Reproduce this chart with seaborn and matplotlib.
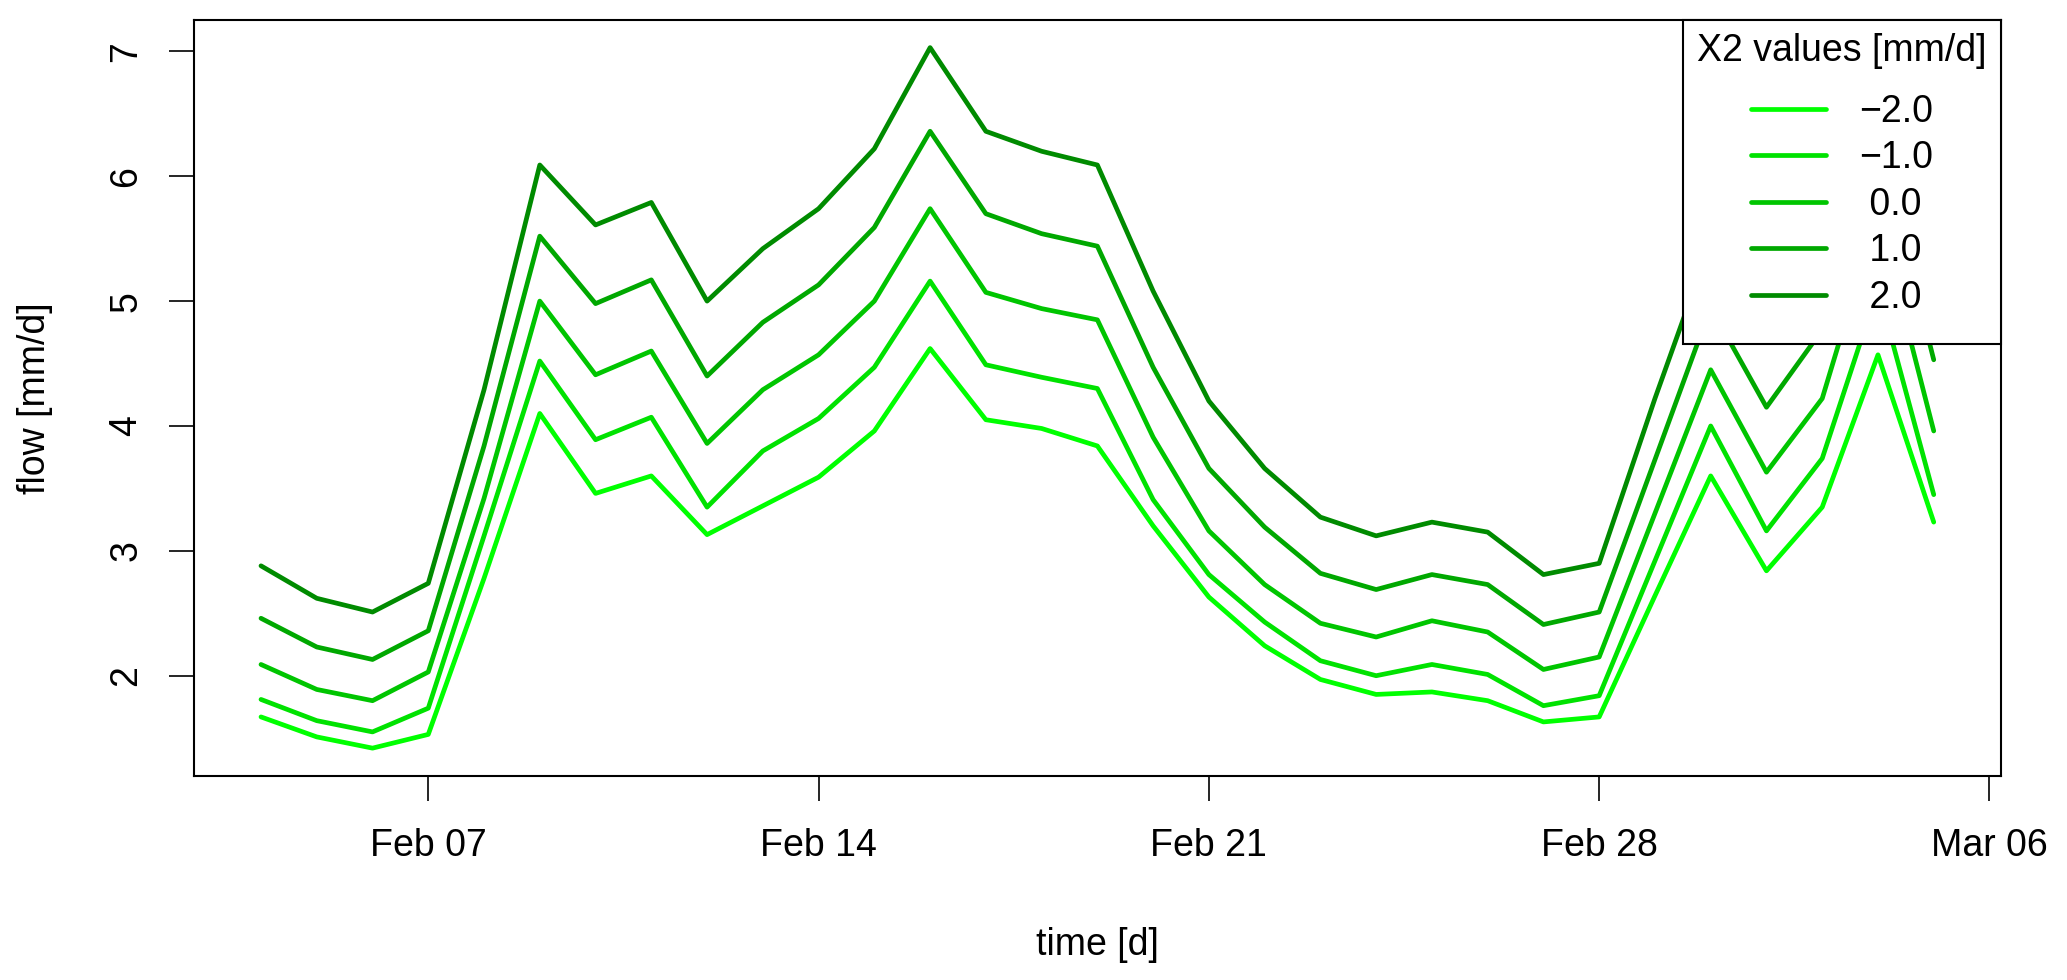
import matplotlib
matplotlib.use("Agg")

import pandas as pd
import matplotlib.pyplot as plt
import matplotlib.dates as mdates
import seaborn as sns

# =====================
# DATA
# =====================
start_day = "2000-02-04"
end_day = "2000-03-05"

x2_labels = ["\u22122.0", "\u22121.0", "\u20080.0", "\u20081.0", "\u20082.0"]
line_colors = ["#00ff00", "#00e200", "#00c500", "#00a800", "#008b00"]

flow_m2 = [1.67, 1.51, 1.42, 1.53, 2.78, 4.10, 3.46, 3.60, 3.13, 3.36, 3.59,
           3.96, 4.62, 4.05, 3.98, 3.84, 3.20, 2.63, 2.24, 1.97, 1.85, 1.87,
           1.80, 1.63, 1.67, 2.64, 3.60, 2.84, 3.35, 4.57, 3.23]
flow_m1 = [1.81, 1.64, 1.55, 1.74, 3.12, 4.52, 3.89, 4.07, 3.35, 3.80, 4.06,
           4.47, 5.16, 4.49, 4.39, 4.30, 3.41, 2.81, 2.43, 2.12, 2.00, 2.09,
           2.01, 1.76, 1.84, 2.92, 4.00, 3.16, 3.74, 5.10, 3.45]
flow_0 = [2.09, 1.89, 1.80, 2.03, 3.42, 5.00, 4.41, 4.60, 3.86, 4.29, 4.57,
          5.00, 5.74, 5.07, 4.94, 4.85, 3.91, 3.16, 2.73, 2.42, 2.31, 2.44,
          2.35, 2.05, 2.15, 3.30, 4.45, 3.63, 4.22, 5.70, 3.96]
flow_p1 = [2.46, 2.23, 2.13, 2.36, 3.84, 5.52, 4.98, 5.17, 4.40, 4.83, 5.13,
           5.59, 6.36, 5.70, 5.54, 5.44, 4.47, 3.66, 3.19, 2.82, 2.69, 2.81,
           2.73, 2.41, 2.51, 3.73, 4.95, 4.15, 4.77, 6.30, 4.53]
flow_p2 = [2.88, 2.62, 2.51, 2.74, 4.29, 6.09, 5.61, 5.79, 5.00, 5.42, 5.74,
           6.22, 7.03, 6.36, 6.20, 6.09, 5.08, 4.20, 3.66, 3.27, 3.12, 3.23,
           3.15, 2.81, 2.90, 4.22, 5.47, 4.75, 5.40, 6.90, 5.10]

tick_days = ["2000-02-07", "2000-02-14", "2000-02-21", "2000-02-28", "2000-03-06"]
y_ticks = [2, 3, 4, 5, 6, 7]

# =====================
# LONG FORMAT
# =====================
days = pd.date_range(start_day, end_day, freq="D")
series = [flow_m2, flow_m1, flow_0, flow_p1, flow_p2]
frames = []
for lab, vals in zip(x2_labels, series):
    frames.append(pd.DataFrame({"time": days, "flow": vals, "X2": lab}))
df = pd.concat(frames, ignore_index=True)

# =====================
# STYLE
# =====================
sns.set_style("ticks")
plt.rcParams["font.family"] = ["Liberation Sans", "DejaVu Sans"]
plt.rcParams["font.size"] = 27
plt.rcParams["axes.linewidth"] = 1.5
plt.rcParams["axes.edgecolor"] = "black"
plt.rcParams["text.color"] = "black"
plt.rcParams["axes.labelcolor"] = "black"
plt.rcParams["xtick.color"] = "black"
plt.rcParams["ytick.color"] = "black"

fig = plt.figure(figsize=(20.67, 9.8), dpi=100)
ax = fig.add_axes([0.0939, 0.208, 0.874, 0.772])

sns.lineplot(
    data=df,
    x="time",
    y="flow",
    hue="X2",
    hue_order=x2_labels,
    palette=dict(zip(x2_labels, line_colors)),
    linewidth=3.4,
    solid_joinstyle="round",
    solid_capstyle="round",
    ax=ax,
)

# R-like 4% padding
ax.margins(x=0.04, y=0.04)

ax.set_xticks(pd.to_datetime(tick_days))
ax.xaxis.set_major_formatter(mdates.DateFormatter("%b %d"))
ax.set_yticks(y_ticks)
plt.setp(ax.get_yticklabels(), rotation=90, va="center")

ax.tick_params(axis="both", direction="out", length=18, width=1.2,
               color="black", labelsize=27)
ax.tick_params(axis="x", pad=19)
ax.tick_params(axis="y", pad=18)

ax.set_xlabel("time [d]", fontsize=27, labelpad=46)
ax.set_ylabel("flow [mm/d]", fontsize=27, labelpad=40)

for s in ax.spines.values():
    s.set_visible(True)
    s.set_color("black")

# =====================
# LEGEND
# =====================
handles, labels = ax.get_legend_handles_labels()
leg = ax.legend(
    handles,
    labels,
    title="X2 values [mm/d]",
    loc="upper right",
    fontsize=27,
    title_fontsize=27,
    frameon=True,
    fancybox=False,
    framealpha=1,
    edgecolor="black",
    borderaxespad=0,
    borderpad=0.37,
    labelspacing=0.28,
    handlelength=2.0,
    handletextpad=0.9,
)
leg.get_frame().set_linewidth(1.5)
for line in leg.get_lines():
    line.set_linewidth(3.4)
# extra room above / below the entries, like the R legend box
leg._legend_handle_box.pad = 10

plt.savefig("out.png", dpi=100)
plt.close()
